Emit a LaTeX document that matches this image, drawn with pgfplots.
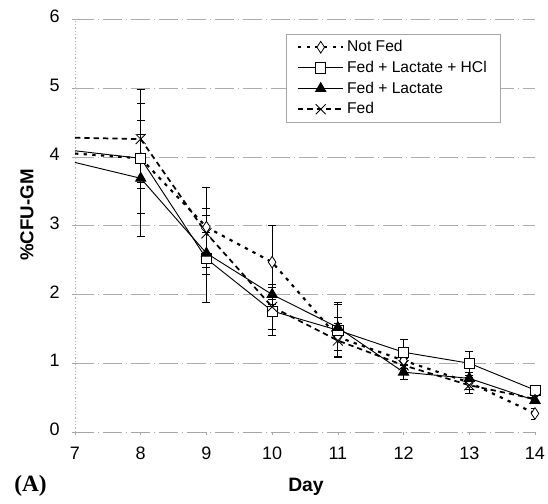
\documentclass[border=0pt]{standalone}
\usepackage{fontspec}
\setmainfont{Liberation Sans}
\newfontfamily\serifA{Liberation Serif}
\usepackage{pgfplots}
\usepackage{pgfplotstable}
\pgfplotsset{compat=1.18}

\pgfplotstableread{
x y e
8 3.98 0.35
9 2.98 0.58
10 2.47 0.54
11 1.38 0.28
12 1.04 0.12
13 0.72 0.10
14 0.27 0.08
}\notfed
\pgfplotstableread{
x y e
8 3.98 0.80
9 2.52 0.63
10 1.76 0.35
11 1.48 0.40
12 1.16 0.18
13 1.00 0.17
14 0.61 0.05
}\hcl
\pgfplotstableread{
x y e
8 3.69 0.84
9 2.60 0.31
10 2.00 0.15
11 1.52 0.33
12 0.87 0.10
13 0.78 0.08
14 0.46 0.05
}\lactate
\pgfplotstableread{
x y e
8 4.26 0.72
9 2.89 0.36
10 1.82 0.33
11 1.33 0.25
12 0.97 0.10
13 0.68 0.12
14 0.48 0.05
}\fed

\pgfplotsset{
  ebar/.style={error bars/.cd, y dir=both, y explicit,
    error bar style={solid, black, line width=0.6pt},
    error mark options={solid, black, rotate=90, mark size=3pt, line width=0.6pt}},
  nfline/.style={black, line width=1.6pt, dash pattern=on 2.5pt off 4pt},
  fedline/.style={black, line width=1.3pt, dash pattern=on 4pt off 3pt},
  solidline/.style={black, line width=0.7pt, solid},
}

\begin{document}
\begin{tikzpicture}
\begin{axis}[
  name=ax,
  scale only axis,
  width=345pt, height=309.4pt,
  xmin=7, xmax=14, ymin=0, ymax=6,
  xtick={7,...,14}, ytick={0,...,6},
  axis x line*=bottom, axis y line*=left,
  x axis line style={gray!70, line width=0.6pt, dash pattern=on 14pt off 3pt on 1pt off 3pt},
  y axis line style={gray!60, line width=0.6pt, dash pattern=on 1pt off 1.5pt},
  ymajorgrids,
  major grid style={gray!65, line width=0.6pt, dash pattern=on 14pt off 3pt on 1pt off 3pt},
  tick style={gray!70, line width=0.5pt},
  tick align=outside, major tick length=2.5pt,
  /pgf/number format/assume math mode=true,
  tick label style={font=\fontsize{13.5}{15}\selectfont, black},
  xticklabel style={yshift=-5.5pt},
  yticklabel style={xshift=-5.5pt, yshift=2pt},
  legend style={at={(rel axis cs:0.4587,0.965)}, anchor=north west,
    draw=gray!70, line width=0.5pt, font=\fontsize{11.7}{14}\selectfont,
    inner xsep=8pt, inner ysep=2pt,
    nodes={inner sep=2pt, text height=9.3pt, text depth=2.2pt}},
  legend cell align=left,
  legend image code/.code={\draw[mark repeat=2,mark phase=2] plot coordinates {(0pt,0pt)(17pt,0pt)(34pt,0pt)};},
]
% segments from day 7 (no markers)
\addplot[nfline, mark=none, forget plot] coordinates {(7,4.05)(8,3.98)};
\addplot[solidline, mark=none, forget plot] coordinates {(7,4.09)(8,3.98)};
\addplot[solidline, mark=none, forget plot] coordinates {(7,3.92)(8,3.69)};
\addplot[fedline, mark=none, forget plot] coordinates {(7,4.28)(8,4.26)};

\addplot[nfline, mark=diamond*, mark size=3.8pt,
  mark options={solid, fill=white, draw=black, line width=0.6pt, yscale=1.15}, ebar]
  table[x=x, y=y, y error=e] {\notfed};
\addlegendentry{Not Fed}
\addplot[solidline, mark=square*, mark size=3.8pt,
  mark options={solid, fill=white, draw=black, line width=0.6pt}, ebar]
  table[x=x, y=y, y error=e] {\hcl};
\addlegendentry{Fed + Lactate + HCl}
\addplot[solidline, mark=triangle*, mark size=4.4pt,
  mark options={solid, fill=black, draw=black}, ebar]
  table[x=x, y=y, y error=e] {\lactate};
\addlegendentry{Fed + Lactate}
\addplot[fedline, mark=x, mark size=5.3pt,
  mark options={solid, draw=black, line width=0.6pt}, ebar]
  table[x=x, y=y, y error=e] {\fed};
\addlegendentry{Fed}
\end{axis}
\node[font=\fontsize{14.5}{16}\selectfont\bfseries] at ([xshift=173.25pt, yshift=-41.25pt]ax.south west) {Day};
\node[font=\fontsize{14}{16}\selectfont\bfseries, rotate=90] at ([xshift=-36pt, yshift=162.75pt]ax.south west) {\%CFU-GM};
\node[font=\fontsize{17.5}{19}\selectfont\bfseries\serifA] at ([xshift=-33.4pt, yshift=-40.5pt]ax.south west) {(A)};
\pgfresetboundingbox
\path[use as bounding box] ([xshift=-56.25pt, yshift=-54pt]ax.south west) rectangle ([xshift=9.75pt, yshift=14.6pt]ax.north east);
\end{tikzpicture}
\end{document}
